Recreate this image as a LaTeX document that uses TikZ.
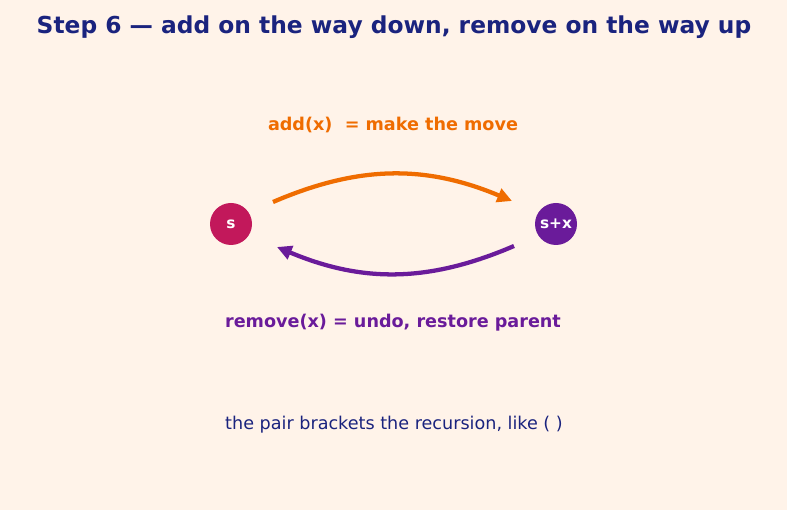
\documentclass[tikz,border=0pt]{standalone}
\usepackage{fontspec}
\setmainfont{DejaVu Sans}
\usetikzlibrary{arrows.meta,calc,positioning}
\definecolor{bgcream}{HTML}{FFF3E9}
\definecolor{navy}{HTML}{1A237E}
\definecolor{addorange}{HTML}{EF6C00}
\definecolor{rmpurple}{HTML}{6A1B9A}
\definecolor{stcrimson}{HTML}{C2185B}

\begin{document}
\begin{tikzpicture}[x=0.75pt,y=0.75pt,
  state/.style={circle,minimum size=31.5pt,inner sep=0pt,text=white,font=\bfseries\fontsize{11.5}{13}\selectfont},
  label/.style={font=\bfseries\fontsize{13.2}{15}\selectfont},
  move/.style={line width=3.2pt,-{Triangle[length=11pt,width=10.5pt]}}]
  \fill[bgcream] (0,0) rectangle (787,510);
  \useasboundingbox (0,0) rectangle (787,510);
  \node[text=navy,font=\bfseries\fontsize{17.5}{20}\selectfont] (title) at (394,483) {Step 6 — add on the way down, remove on the way up};
  \node[state,fill=stcrimson] (s) at (231,286) {s};
  \node[state,fill=rmpurple] (sx) at (556,286) {s+x};
  \node[label,text=addorange] (addlbl) at (393,385.5) {add(x)\ \ = make the move};
  \node[label,text=rmpurple] (rmlbl) at (393,187.5) {remove(x) = undo, restore parent};
  \node[text=navy,font=\fontsize{13.2}{15}\selectfont] (note) at (394,85.5) {the pair brackets the recursion, like ( )};
  \draw[move,addorange] ([shift={(42,22)}]s.center) to[bend left=23] ([shift={(-44,23)}]sx.center);
  \draw[move,rmpurple] ([shift={(-42,-22)}]sx.center) to[bend left=23] ([shift={(46,-23)}]s.center);
\end{tikzpicture}
\end{document}
